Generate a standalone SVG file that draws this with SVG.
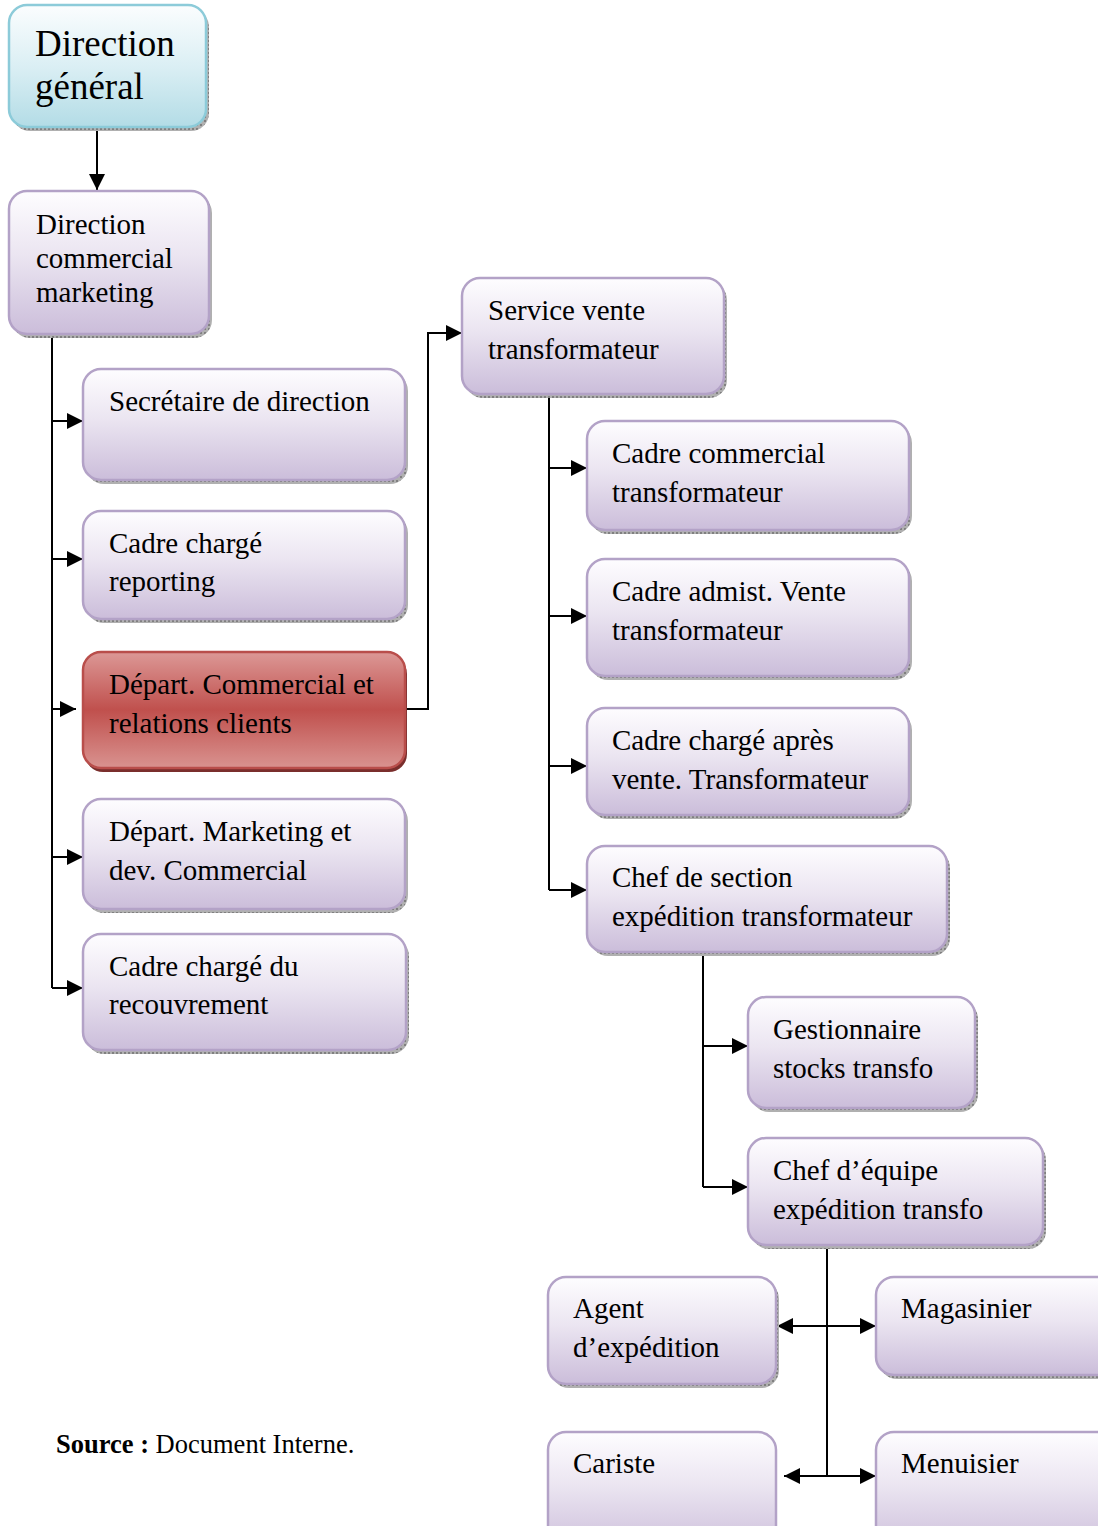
<svg xmlns="http://www.w3.org/2000/svg" width="1098" height="1526" viewBox="0 0 1098 1526">
  <defs>
    <linearGradient id="gLav" x1="0" y1="0" x2="0" y2="1">
      <stop offset="0" stop-color="#fefdff"/>
      <stop offset="0.45" stop-color="#ebe5f1"/>
      <stop offset="1" stop-color="#cbbdda"/>
    </linearGradient>
    <linearGradient id="gCyan" x1="0" y1="0" x2="0" y2="1">
      <stop offset="0" stop-color="#fbfdfe"/>
      <stop offset="0.5" stop-color="#dbeff4"/>
      <stop offset="1" stop-color="#b3dce6"/>
    </linearGradient>
    <linearGradient id="gRed" x1="0" y1="0" x2="0" y2="1">
      <stop offset="0" stop-color="#dc9896"/>
      <stop offset="0.5" stop-color="#c0504d"/>
      <stop offset="1" stop-color="#d99390"/>
    </linearGradient>
    <!-- dotted grey strip used under each box -->
    <pattern id="dots" width="4" height="4" patternUnits="userSpaceOnUse">
      <rect width="4" height="4" fill="#b0b0b0"/>
      <rect width="2" height="2" fill="#808080"/>
    </pattern>
    <marker id="arr" viewBox="0 0 10 10" refX="10" refY="5" markerWidth="16" markerHeight="16" markerUnits="userSpaceOnUse" orient="auto-start-reverse">
      <path d="M0,0 L10,5 L0,10 Z" fill="#000"/>
    </marker>
  </defs>
  <style>
    .box { fill: url(#gLav); stroke: #b3a2c7; stroke-width: 2.5; }
    .shadow { fill: url(#dots); }
    .cyan { fill: url(#gCyan); stroke: #8ccbd9; stroke-width: 2.5; }
    .red { fill: url(#gRed); stroke: #b94e4b; stroke-width: 2.5; }
    .redshadow { fill: #7a2e2c; }
    text { font-family: "Liberation Serif", "Times New Roman", serif; font-size: 29px; fill: #000; }
    .big { font-size: 37px; }
    .src { font-size: 26.5px; }
    .wire { fill: none; stroke: #000; stroke-width: 2; }
    .wa { fill: none; stroke: #000; stroke-width: 2; marker-end: url(#arr); }
    .wb { fill: none; stroke: #000; stroke-width: 2; marker-start: url(#arr); marker-end: url(#arr); }
  </style>

  <rect width="1098" height="1526" fill="#fff"/>

  <!-- connectors -->
  <g id="connectors">
    <path class="wa" d="M97,127 V190"/>
    <path class="wire" d="M52,334 V988"/>
    <path class="wa" d="M52,421 H83"/>
    <path class="wa" d="M52,559 H83"/>
    <path class="wa" d="M52,709 H76"/>
    <path class="wa" d="M52,857 H83"/>
    <path class="wa" d="M52,988 H83"/>
    <path class="wa" d="M405,709 H428 V333 H462"/>
    <path class="wire" d="M549,394 V890"/>
    <path class="wa" d="M549,468 H587"/>
    <path class="wa" d="M549,616 H587"/>
    <path class="wa" d="M549,766 H587"/>
    <path class="wa" d="M549,890 H587"/>
    <path class="wire" d="M703,952 V1187"/>
    <path class="wa" d="M703,1046 H748"/>
    <path class="wa" d="M703,1187 H748"/>
    <path class="wire" d="M827,1245 V1476"/>
    <path class="wb" d="M777,1326 H876"/>
    <path class="wb" d="M784,1476 H876"/>
  </g>

  <!-- nodes -->
  <g id="n-direction-general">
    <rect class="shadow" x="12" y="9" width="197" height="122" rx="18"/>
    <rect class="cyan" x="9" y="5" width="197" height="122" rx="18"/>
    <text class="big" x="35" y="56">Direction</text>
    <text class="big" x="35" y="99">général</text>
  </g>

  <g id="n-direction-commercial">
    <rect class="shadow" x="12" y="195" width="200" height="143" rx="18"/>
    <rect class="box" x="9" y="191" width="200" height="143" rx="18"/>
    <text x="36" y="234">Direction</text>
    <text x="36" y="268">commercial</text>
    <text x="36" y="302">marketing</text>
  </g>

  <g id="n-secretaire">
    <rect class="shadow" x="86" y="373" width="322" height="111" rx="18"/>
    <rect class="box" x="83" y="369" width="322" height="111" rx="18"/>
    <text x="109" y="411">Secrétaire de direction</text>
  </g>

  <g id="n-reporting">
    <rect class="shadow" x="86" y="515" width="322" height="108" rx="18"/>
    <rect class="box" x="83" y="511" width="322" height="108" rx="18"/>
    <text x="109" y="553">Cadre chargé</text>
    <text x="109" y="591">reporting</text>
  </g>

  <g id="n-depart-commercial">
    <rect class="redshadow" x="85" y="656" width="322" height="116" rx="18"/>
    <rect class="red" x="83" y="652" width="322" height="116" rx="18"/>
    <text x="109" y="694">Départ. Commercial et</text>
    <text x="109" y="733">relations clients</text>
  </g>

  <g id="n-depart-marketing">
    <rect class="shadow" x="86" y="803" width="322" height="110" rx="18"/>
    <rect class="box" x="83" y="799" width="322" height="110" rx="18"/>
    <text x="109" y="841">Départ. Marketing et</text>
    <text x="109" y="880">dev. Commercial</text>
  </g>

  <g id="n-recouvrement">
    <rect class="shadow" x="86" y="938" width="323" height="116" rx="18"/>
    <rect class="box" x="83" y="934" width="323" height="116" rx="18"/>
    <text x="109" y="976">Cadre chargé du</text>
    <text x="109" y="1014">recouvrement</text>
  </g>

  <g id="n-service-vente">
    <rect class="shadow" x="465" y="282" width="262" height="116" rx="18"/>
    <rect class="box" x="462" y="278" width="262" height="116" rx="18"/>
    <text x="488" y="320">Service vente</text>
    <text x="488" y="359">transformateur</text>
  </g>

  <g id="n-cadre-commercial">
    <rect class="shadow" x="590" y="425" width="322" height="109" rx="18"/>
    <rect class="box" x="587" y="421" width="322" height="109" rx="18"/>
    <text x="612" y="463">Cadre commercial</text>
    <text x="612" y="502">transformateur</text>
  </g>

  <g id="n-cadre-admist">
    <rect class="shadow" x="590" y="563" width="322" height="117" rx="18"/>
    <rect class="box" x="587" y="559" width="322" height="117" rx="18"/>
    <text x="612" y="601">Cadre admist. Vente</text>
    <text x="612" y="640">transformateur</text>
  </g>

  <g id="n-apres-vente">
    <rect class="shadow" x="590" y="712" width="322" height="107" rx="18"/>
    <rect class="box" x="587" y="708" width="322" height="107" rx="18"/>
    <text x="612" y="750">Cadre chargé après</text>
    <text x="612" y="789">vente. Transformateur</text>
  </g>

  <g id="n-chef-section">
    <rect class="shadow" x="590" y="850" width="360" height="106" rx="18"/>
    <rect class="box" x="587" y="846" width="360" height="106" rx="18"/>
    <text x="612" y="887">Chef de section</text>
    <text x="612" y="926">expédition transformateur</text>
  </g>

  <g id="n-gestionnaire">
    <rect class="shadow" x="751" y="1001" width="227" height="111" rx="18"/>
    <rect class="box" x="748" y="997" width="227" height="111" rx="18"/>
    <text x="773" y="1039">Gestionnaire</text>
    <text x="773" y="1078">stocks transfo</text>
  </g>

  <g id="n-chef-equipe">
    <rect class="shadow" x="751" y="1142" width="295" height="107" rx="18"/>
    <rect class="box" x="748" y="1138" width="295" height="107" rx="18"/>
    <text x="773" y="1180">Chef d’équipe</text>
    <text x="773" y="1219">expédition transfo</text>
  </g>

  <g id="n-agent">
    <rect class="shadow" x="551" y="1281" width="228" height="107" rx="18"/>
    <rect class="box" x="548" y="1277" width="228" height="107" rx="18"/>
    <text x="573" y="1318">Agent</text>
    <text x="573" y="1357">d’expédition</text>
  </g>

  <g id="n-magasinier">
    <rect class="shadow" x="879" y="1281" width="240" height="98" rx="18"/>
    <rect class="box" x="876" y="1277" width="240" height="98" rx="18"/>
    <text x="901" y="1318">Magasinier</text>
  </g>

  <g id="n-cariste">
    <rect class="box" x="548" y="1432" width="228" height="120" rx="18"/>
    <text x="573" y="1473">Cariste</text>
  </g>

  <g id="n-menuisier">
    <rect class="box" x="876" y="1432" width="240" height="120" rx="18"/>
    <text x="901" y="1473">Menuisier</text>
  </g>

  <text class="src" x="56" y="1453"><tspan font-weight="bold">Source :</tspan> Document Interne.</text>
</svg>
